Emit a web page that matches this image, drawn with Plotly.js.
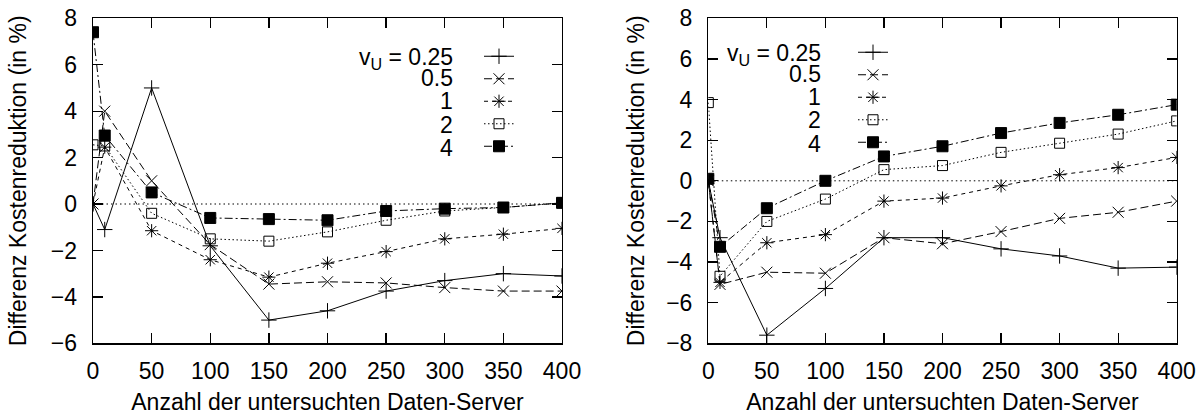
<!DOCTYPE html>
<html>
<head>
<meta charset="utf-8">
<script src="https://cdn.plot.ly/plotly-3.0.1.min.js"></script>
<style>html,body{margin:0;padding:0;background:#fff;}#chart{width:1200px;height:415px;}</style>
</head>
<body>
<div id="chart"></div>
<script>
// x positions: number of examined data servers
const servers = [0, 10, 50, 100, 150, 200, 250, 300, 350, 400];

// series labels
const seriesLabels = ["v<sub>U</sub> = 0.25", "0.5", "1", "2", "4"];

// left chart values (Differenz Kostenreduktion in %)
const left_025 = [0, -1.1, 5.0, -1.8, -5.0, -4.6, -3.75, -3.3, -3.0, -3.1];
const left_05  = [0, 4.0, 1.0, -1.75, -3.45, -3.35, -3.4, -3.6, -3.75, -3.75];
const left_1   = [0, 2.45, -1.15, -2.4, -3.15, -2.55, -2.05, -1.5, -1.3, -1.05];
const left_2   = [2.55, 2.5, -0.4, -1.5, -1.6, -1.2, -0.7, -0.3, -0.15, 0.05];
const left_4   = [7.4, 2.95, 0.5, -0.6, -0.65, -0.7, -0.3, -0.2, -0.15, 0.05];

// right chart values
const right_025 = [0, -2.8, -7.6, -5.3, -2.8, -2.8, -3.35, -3.7, -4.3, -4.25];
const right_05  = [0, -5.1, -4.5, -4.55, -2.8, -3.1, -2.5, -1.85, -1.55, -1.0];
const right_1   = [0, -5.0, -3.05, -2.65, -1.0, -0.85, -0.25, 0.3, 0.65, 1.15];
const right_2   = [3.85, -4.7, -2.0, -0.9, 0.55, 0.75, 1.4, 1.85, 2.3, 2.95];
const right_4   = [0.1, -3.25, -1.35, 0, 1.2, 1.7, 2.35, 2.85, 3.25, 3.75];

// tick labels
const xTicks = [0, 50, 100, 150, 200, 250, 300, 350, 400];
const yTicksLeft = [-6, -4, -2, 0, 2, 4, 6, 8];
const yTicksRight = [-8, -6, -4, -2, 0, 2, 4, 6, 8];

const styles = [
  {dash: "solid", symbol: "cross-thin-open", size: 11},
  {dash: "8px,4px", symbol: "x-thin-open", size: 11},
  {dash: "4px,4px", symbol: "asterisk-open", size: 11},
  {dash: "1.5px,2.5px", symbol: "square-open", size: 10},
  {dash: "8px,3px,2px,3px", symbol: "square", size: 11}
];

const FONT = "Liberation Sans, Arial, Helvetica, sans-serif";
const FS = 23;
const leftSeries = [left_025, left_05, left_1, left_2, left_4];
const rightSeries = [right_025, right_05, right_1, right_2, right_4];

const traces = [];
function addTraces(series, xa, ya, legendId) {
  series.forEach((vals, i) => {
    const st = styles[i];
    traces.push({
      type: "scatter", mode: "lines+markers",
      x: servers, y: vals, xaxis: xa, yaxis: ya,
      name: " ", legend: legendId,
      line: {color: "#000", width: 1, dash: st.dash},
      marker: {symbol: st.symbol, size: st.size, color: "#000",
               line: {color: "#000", width: 1}}
    });
  });
}
addTraces(leftSeries, "x", "y", "legend");
addTraces(rightSeries, "x2", "y2", "legend2");

const H = 415, W = 1200;
const px = v => v / W;
const py = v => 1 - v / H;

function axisBase() {
  return {
    showline: true, linecolor: "#000", linewidth: 1.3, mirror: "ticks",
    ticks: "inside", ticklen: 10, tickwidth: 1.3, tickcolor: "#000",
    showgrid: false, zeroline: false,
    tickfont: {family: FONT, size: FS, color: "#000"}
  };
}

const xTitle = "Anzahl der untersuchten Daten-Server";
const yTitle = "Differenz Kostenreduktion (in %)";

const layout = {
  width: W, height: H,
  margin: {l: 0, r: 0, t: 0, b: 0},
  paper_bgcolor: "#fff", plot_bgcolor: "#fff",
  font: {family: FONT, size: FS, color: "#000"},
  showlegend: true,
  xaxis: Object.assign(axisBase(), {
    domain: [px(93), px(562)], range: [0, 400], tickvals: xTicks,
    ticklabelstandoff: 7,
    title: {text: xTitle, font: {family: FONT, size: FS}, standoff: 10}
  }),
  yaxis: Object.assign(axisBase(), {
    domain: [py(343.3), py(18.3)], range: [-6, 8], tickvals: yTicksLeft,
    ticklabelstandoff: 10,
    title: {text: yTitle, font: {family: FONT, size: FS}, standoff: 17}
  }),
  xaxis2: Object.assign(axisBase(), {
    anchor: "y2",
    domain: [px(708.3), px(1176.7)], range: [0, 400], tickvals: xTicks,
    ticklabelstandoff: 7,
    title: {text: xTitle, font: {family: FONT, size: FS}, standoff: 10}
  }),
  yaxis2: Object.assign(axisBase(), {
    anchor: "x2",
    domain: [py(343.3), py(18.3)], range: [-8, 8], tickvals: yTicksRight,
    ticklabelstandoff: 10,
    title: {text: yTitle, font: {family: FONT, size: FS}, standoff: 15}
  }),
  legend: {
    x: px(479), y: py(40), xanchor: "left", yanchor: "top",
    bgcolor: "rgba(0,0,0,0)", borderwidth: 0,
    font: {family: FONT, size: 15}, itemwidth: 30, tracegroupgap: 0,
    itemclick: false, itemdoubleclick: false
  },
  legend2: {
    x: px(853), y: py(36), xanchor: "left", yanchor: "top",
    bgcolor: "rgba(0,0,0,0)", borderwidth: 0,
    font: {family: FONT, size: 15}, itemwidth: 30, tracegroupgap: 0,
    itemclick: false, itemdoubleclick: false
  },
  shapes: [
    {type: "line", xref: "x domain", yref: "y", x0: 0, x1: 1, y0: 0, y1: 0,
     line: {color: "#000", width: 1, dash: "1.5px,3px"}, layer: "below"},
    {type: "line", xref: "x2 domain", yref: "y2", x0: 0, x1: 1, y0: 0, y1: 0,
     line: {color: "#000", width: 1, dash: "1.5px,3px"}, layer: "below"}
  ],
  annotations: []
};

const leftLegendY = [59, 78, 101, 124.5, 147.5];
const rightLegendY = [55, 74, 97, 120, 144];
seriesLabels.forEach((lbl, i) => {
  layout.annotations.push({
    text: lbl, xref: "paper", yref: "paper", x: px(454), y: py(leftLegendY[i]),
    xanchor: "right", yanchor: "middle", showarrow: false, borderpad: 0,
    font: {family: FONT, size: FS, color: "#000"}
  });
  layout.annotations.push({
    text: lbl, xref: "paper", yref: "paper", x: px(822), y: py(rightLegendY[i]),
    xanchor: "right", yanchor: "middle", showarrow: false, borderpad: 0,
    font: {family: FONT, size: FS, color: "#000"}
  });
});

Plotly.newPlot("chart", traces, layout, {displayModeBar: false, staticPlot: true});
</script>
</body>
</html>
